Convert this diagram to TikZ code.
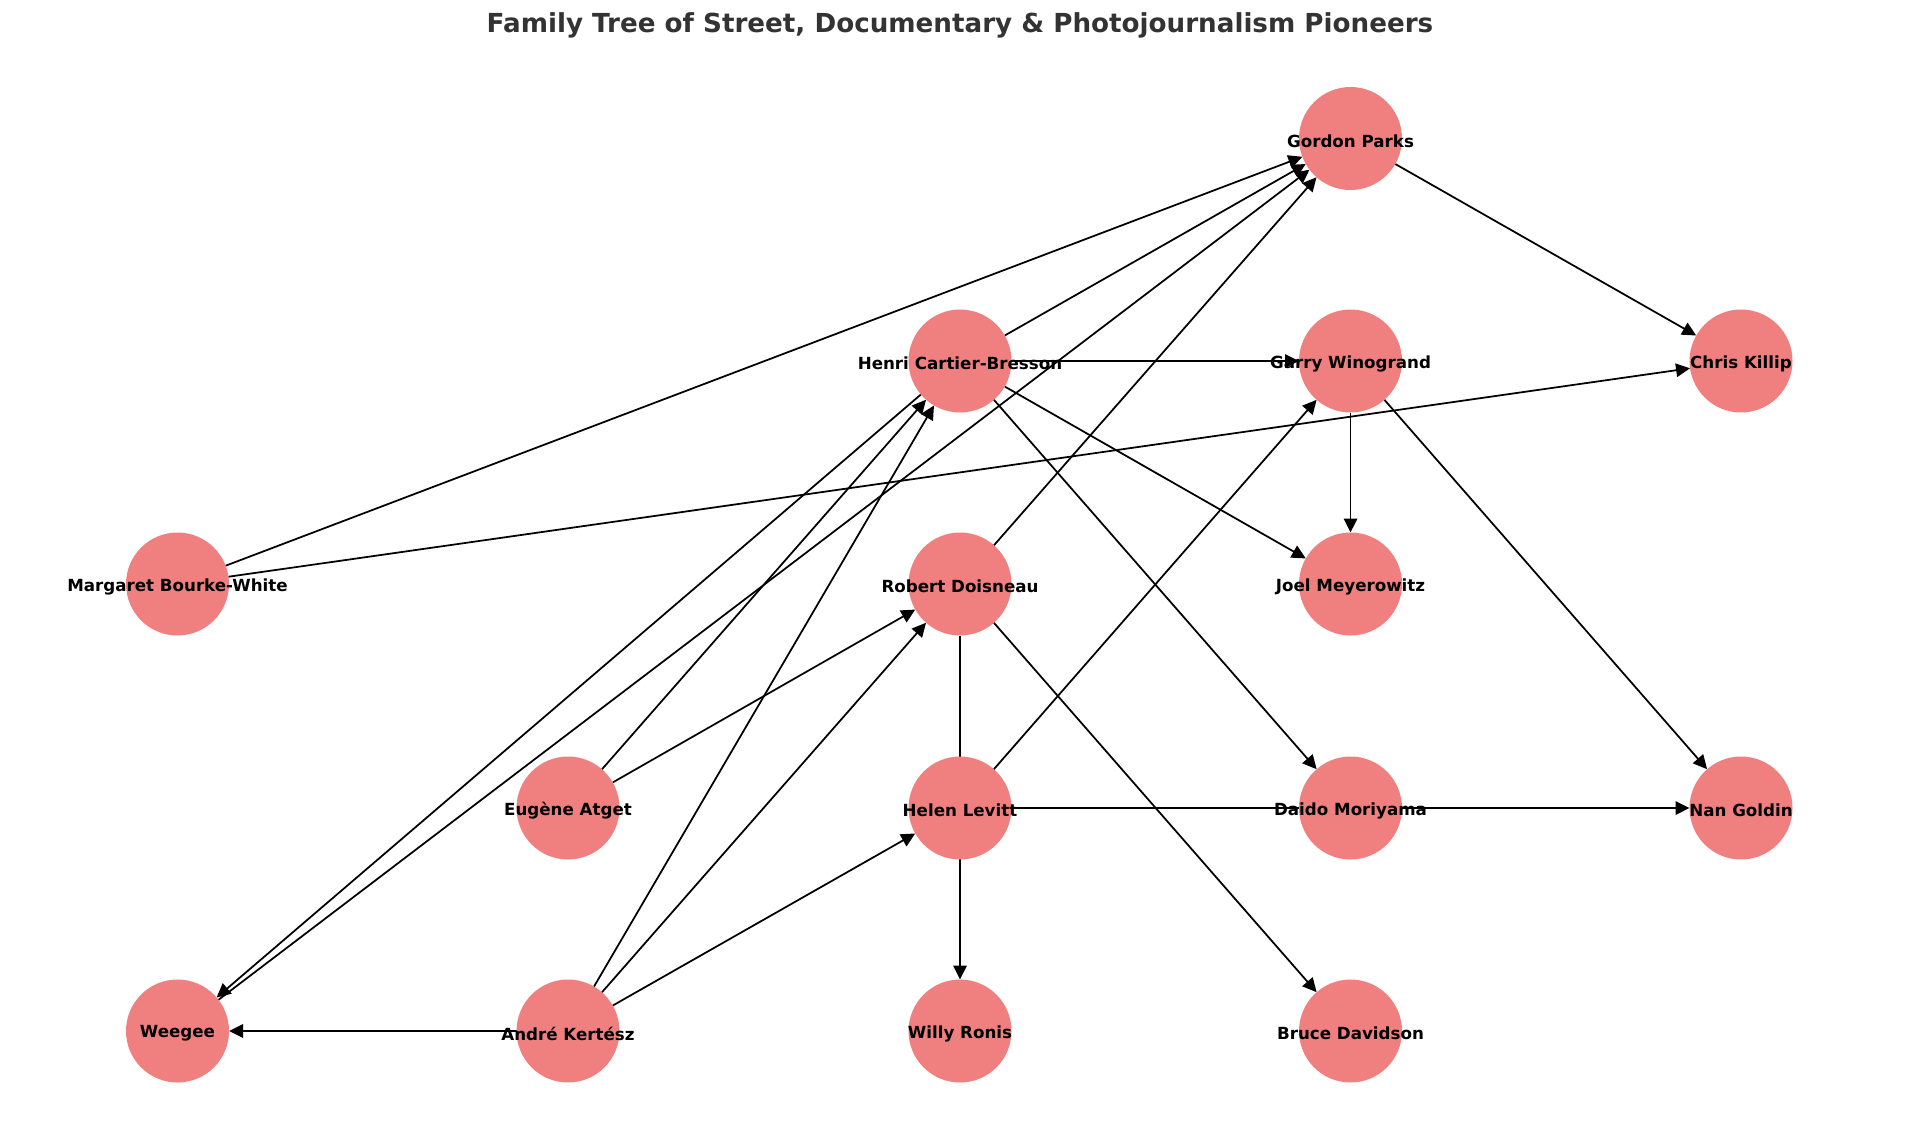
\documentclass[tikz,border=0pt]{standalone}
\usepackage{fontspec}
\setmainfont{DejaVu Sans}
\usepackage{xcolor}
\usetikzlibrary{arrows.meta,backgrounds}
\definecolor{lightcoral}{HTML}{F08080}
\definecolor{titlegray}{HTML}{333333}

\begin{document}
\begin{tikzpicture}[
  person/.style={circle,fill=lightcoral,minimum size=2.06cm,inner sep=0pt,outer sep=0pt,
    label={[font=\bfseries\fontsize{9.5}{11}\selectfont,text=black,yshift=-0.05cm]center:#1}},
  link/.style={-{Triangle[length=0.28cm,width=0.27cm]},line width=1pt,black}
]
\useasboundingbox (0,0) rectangle (38.4,-22.78);

\node[font=\bfseries\fontsize{14.9}{17}\selectfont,text=titlegray] (title) at (19.2,-0.5)
  {Family Tree of Street, Documentary \& Photojournalism Pioneers};

% first generation on the left, followers to the right
\node[person={Gordon Parks}] (parks) at (27.01,-2.77) {};

\node[person={Henri Cartier-Bresson}] (bresson) at (19.2,-7.22) {};
\node[person={Garry Winogrand}] (winogrand) at (27.01,-7.22) {};
\node[person={Chris Killip}] (killip) at (34.82,-7.22) {};

\node[person={Margaret Bourke-White}] (bourke) at (3.55,-11.68) {};
\node[person={Robert Doisneau}] (doisneau) at (19.2,-11.68) {};
\node[person={Joel Meyerowitz}] (meyerowitz) at (27.01,-11.68) {};

\node[person={Eugène Atget}] (atget) at (11.36,-16.16) {};
\node[person={Helen Levitt}] (levitt) at (19.2,-16.16) {};
\node[person={Daido Moriyama}] (moriyama) at (27.01,-16.16) {};
\node[person={Nan Goldin}] (goldin) at (34.82,-16.16) {};

\node[person={Weegee}] (weegee) at (3.55,-20.62) {};
\node[person={André Kertész}] (kertesz) at (11.36,-20.62) {};
\node[person={Willy Ronis}] (ronis) at (19.2,-20.62) {};
\node[person={Bruce Davidson}] (davidson) at (27.01,-20.62) {};

% influences, kept under the circles
\begin{scope}[on background layer]
  \draw[link] (bourke) -- (parks);
  \draw[link] (bourke) -- (killip);
  \draw[link] (bresson) -- (parks);
  \draw[link] (bresson) -- (winogrand);
  \draw[link] (bresson) -- (meyerowitz);
  \draw[link] (bresson) -- (moriyama);
  \draw[link] (bresson) -- (weegee);
  \draw[link] (weegee) -- (parks);
  \draw[link] (atget) -- (bresson);
  \draw[link] (atget) -- (doisneau);
  \draw[link] (kertesz) -- (bresson);
  \draw[link] (kertesz) -- (doisneau);
  \draw[link] (kertesz) -- (levitt);
  \draw[link] (kertesz) -- (weegee);
  \draw[link] (doisneau) -- (parks);
  \draw[link] (doisneau) -- (davidson);
  \draw[link] (doisneau) -- (ronis);
  \draw[link] (levitt) -- (winogrand);
  \draw[link] (levitt) -- (goldin);
  \draw[link] (parks) -- (killip);
  \draw[link] (winogrand) -- (meyerowitz);
  \draw[link] (winogrand) -- (goldin);
\end{scope}
\end{tikzpicture}
\end{document}
